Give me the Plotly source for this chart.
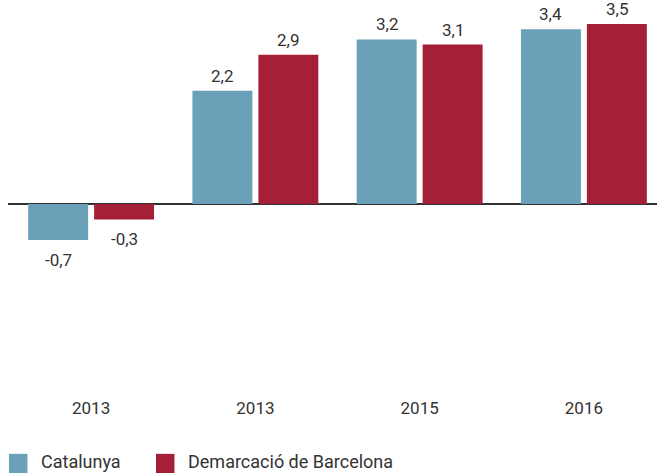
import plotly.graph_objects as go

categories = ["2013", "2013", "2015", "2016"]
catalunya = [-0.7, 2.2, 3.2, 3.4]
barcelona = [-0.3, 2.9, 3.1, 3.5]
series_names = ["Catalunya", "Demarcació de Barcelona"]
colors = ["#6aa1b9", "#a51f37"]

FONT = "Roboto, sans-serif"
TXT = "#333333"

positions = list(range(len(categories)))

def fmt(v):
    return f"{v:.1f}".replace(".", ",")

fig = go.Figure()
offsets = [-33, 33]
for name, vals, col, off in zip(series_names, [catalunya, barcelona], colors, offsets):
    fig.add_trace(go.Bar(
        x=positions, y=vals, name=name, marker=dict(color=col, line=dict(width=0)),
        showlegend=False, hoverinfo="skip",
    ))
    for p, v in zip(positions, vals):
        fig.add_annotation(
            x=p, y=v, xref="x", yref="y", text=fmt(v), showarrow=False,
            xshift=off, yanchor="bottom" if v >= 0 else "top",
            yshift=3 if v >= 0 else -8,
            font=dict(family=FONT, size=17, color=TXT),
        )

# legend drawn as keys + labels below the plot area
legend_x = [0.0015, 0.228]
for name, col, lx in zip(series_names, colors, legend_x):
    fig.add_shape(type="rect", xref="paper", yref="paper",
                  x0=lx, x1=lx + 0.0285, y0=-0.25, y1=-0.194,
                  fillcolor=col, line=dict(width=0))
    fig.add_annotation(x=lx + 0.047, y=-0.214, xref="paper", yref="paper",
                       text=name, showarrow=False, xanchor="left", yanchor="middle",
                       font=dict(family=FONT, size=18, color=TXT))

fig.update_layout(
    width=657, height=473,
    margin=dict(l=8, r=0, t=24, b=89),
    barmode="group", bargap=0.197, bargroupgap=0.091,
    plot_bgcolor="white", paper_bgcolor="white",
    font=dict(family=FONT, size=17, color=TXT),
    showlegend=False,
    xaxis=dict(range=[-0.506, 3.445], tickvals=positions, ticktext=categories,
               showgrid=False, showline=False, zeroline=False, ticks="",
               ticklabelstandoff=12, tickfont=dict(family=FONT, size=17, color=TXT)),
    yaxis=dict(range=[-3.5, 3.5], showgrid=False, showticklabels=False, ticks="",
               zeroline=True, zerolinecolor="#333333", zerolinewidth=1.5, showline=False),
)

fig.write_html("out.html")
